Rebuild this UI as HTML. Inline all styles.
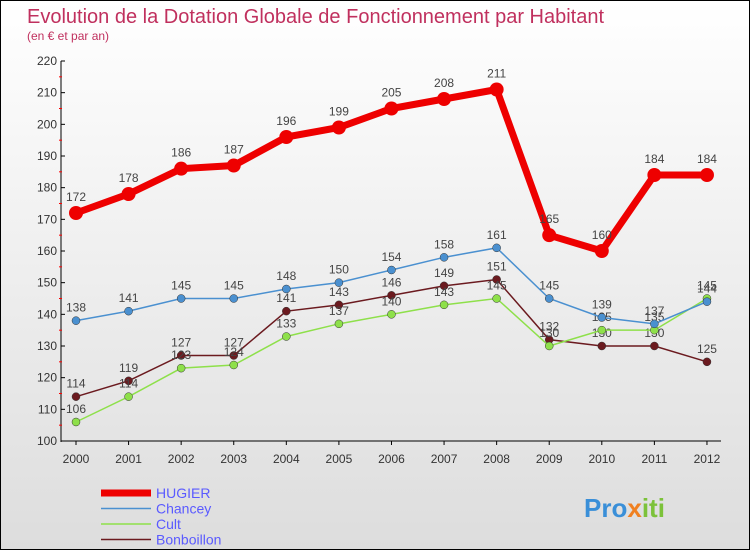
<!DOCTYPE html>
<html><head><meta charset="utf-8"><style>
body{margin:0}
#c{position:relative;width:750px;height:550px;box-sizing:border-box;border:1px solid #000;background:linear-gradient(#fff,#ddd);font-family:"Liberation Sans",sans-serif;overflow:hidden}
</style></head><body>
<div id="c">
<svg id="s" width="750" height="550" style="position:absolute;left:0;top:0">
<text x="26" y="22" font-size="20" fill="#c0305e">Evolution de la Dotation Globale de Fonctionnement par Habitant</text>
<text x="26" y="39" font-size="12" fill="#c0305e">(en € et par an)</text>
<g id="axes"></g><g id="plot"></g><g id="legend"></g>
<text x="583" y="516" font-size="26" font-weight="bold" fill="#3a8fd8">Pro<tspan fill="#f08020">x</tspan><tspan fill="#7cc23a">iti</tspan></text>
</svg>
</div>
<script>
const years=["2000","2001","2002","2003","2004","2005","2006","2007","2008","2009","2010","2011","2012"];
const hugier=[172,178,186,187,196,199,205,208,211,165,160,184,184];
const chancey=[138,141,145,145,148,150,154,158,161,145,139,137,144];
const cult=[106,114,123,124,133,137,140,143,145,130,135,135,145];
const bonboillon=[114,119,127,127,141,143,146,149,151,132,130,130,125];
const yTicks=[100,110,120,130,140,150,160,170,180,190,200,210,220];
const NS="http://www.w3.org/2000/svg";
const X=i=>75+i*52.58, Y=v=>440-(v-100)*3.1667;
function mk(t,a,p){const e=document.createElementNS(NS,t);for(const k in a)e.setAttribute(k,a[k]);p.appendChild(e);return e;}
const ax=document.getElementById('axes'),pl=document.getElementById('plot'),lg=document.getElementById('legend');
let e=mk('line',{x1:60,y1:60,x2:60,y2:441,stroke:'#000'},ax);

e=mk('line',{x1:60,y1:440,x2:720,y2:440,stroke:'#000'},ax);

yTicks.forEach((v,i)=>{
 mk('line',{x1:60,y1:Y(v),x2:64,y2:Y(v),stroke:'#000'},ax);
 if(i<yTicks.length-1)mk('line',{x1:58,y1:Y(v+5),x2:61,y2:Y(v+5),stroke:'#f00'},ax);
 const t=mk('text',{x:56,y:Y(v)+4,'font-size':12,fill:'#333','text-anchor':'end'},ax);t.textContent=v;
 
});
years.forEach((y,i)=>{
 mk('line',{x1:X(i),y1:440,x2:X(i),y2:444,stroke:'#000'},ax);
 const t=mk('text',{x:X(i),y:462,'font-size':12,fill:'#333','text-anchor':'middle'},ax);t.textContent=y;
 
});
const series=[
 {n:'Bonboillon',d:bonboillon,c:'#6b1a1f',w:1.5,r:4},
 {n:'Cult',d:cult,c:'#8ee04a',w:1.5,r:4},
 {n:'Chancey',d:chancey,c:'#4a90d0',w:1.5,r:4},
 {n:'HUGIER',d:hugier,c:'#ee0000',w:7,r:7}];
series.forEach(s=>{
 const p=mk('polyline',{points:s.d.map((v,i)=>X(i)+','+Y(v)).join(' '),fill:'none',stroke:s.c,'stroke-width':s.w},pl);
 
 s.d.forEach((v,i)=>{
  const c=mk('circle',{cx:X(i),cy:Y(v),r:s.r,fill:s.c,stroke:'#333','stroke-width':s.w>2?0:0.5},pl);
  
  const t=mk('text',{x:X(i),y:Y(v)-(s.w>2?12:9),'font-size':12,fill:'#444','text-anchor':'middle'},pl);t.textContent=v;
  
 });
});
[['HUGIER','#ee0000',7],['Chancey','#4a90d0',1.5],['Cult','#8ee04a',1.5],['Bonboillon','#6b1a1f',1.5]].forEach((l,i)=>{
 const y=492+i*15.5;
 mk('line',{x1:100,y1:y,x2:150,y2:y,stroke:l[1],'stroke-width':l[2]},lg);
 const t=mk('text',{x:155,y:y+5,'font-size':14,fill:'#5a5aff'},lg);t.textContent=l[0];
 
});
</script>
</body></html>
